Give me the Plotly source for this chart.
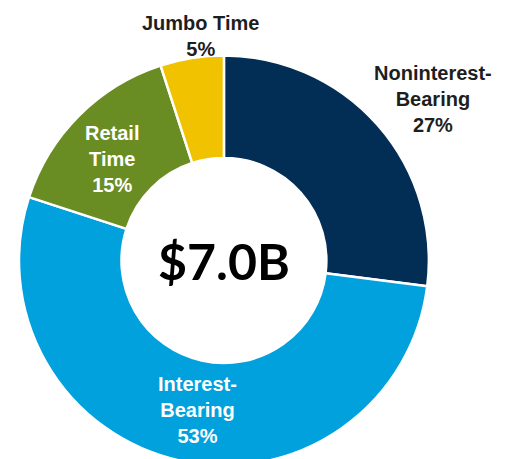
import plotly.graph_objects as go

# deposit mix
categories = ["Noninterest-<br>Bearing", "Interest-<br>Bearing", "Retail<br>Time", "Jumbo Time"]
shares = [27, 53, 15, 5]
total_label = "$7.0B"

colors = ["#022d55", "#00a1dd", "#6a8d23", "#f0c200"]
label_colors = ["#1e1e1e", "#ffffff", "#ffffff", "#1e1e1e"]
# label anchor points in paper coordinates
label_x = [0.831, 0.370, 0.203, 0.375]
label_y = [0.802, 0.124, 0.671, 0.940]

fig = go.Figure()
fig.add_pie(
    labels=categories,
    values=shares,
    hole=0.5,
    sort=False,
    direction="clockwise",
    rotation=0,
    marker={"colors": colors, "line": {"color": "#ffffff", "width": 2.5}},
    textinfo="none",
    title={
        "text": f"<b>{total_label}</b>",
        "position": "middle center",
        "font": {"family": "Lato", "size": 50, "color": "#000000"},
    },
    domain={"x": [0.0215, 0.822], "y": [0.0033, 0.8965]},
    showlegend=False,
)

for name, pct, col, x, y in zip(categories, shares, label_colors, label_x, label_y):
    fig.add_annotation(
        text=f"<b>{name}<br>{pct}%</b>",
        x=x,
        y=y,
        xref="paper",
        yref="paper",
        xanchor="center",
        yanchor="middle",
        showarrow=False,
        align="center",
        borderpad=0,
        font={"family": "Liberation Sans", "size": 20, "color": col},
    )

fig.update_layout(
    width=512,
    height=459,
    margin={"l": 0, "r": 0, "t": 0, "b": 0},
    paper_bgcolor="#ffffff",
    plot_bgcolor="#ffffff",
)

fig.write_html("out.html")
